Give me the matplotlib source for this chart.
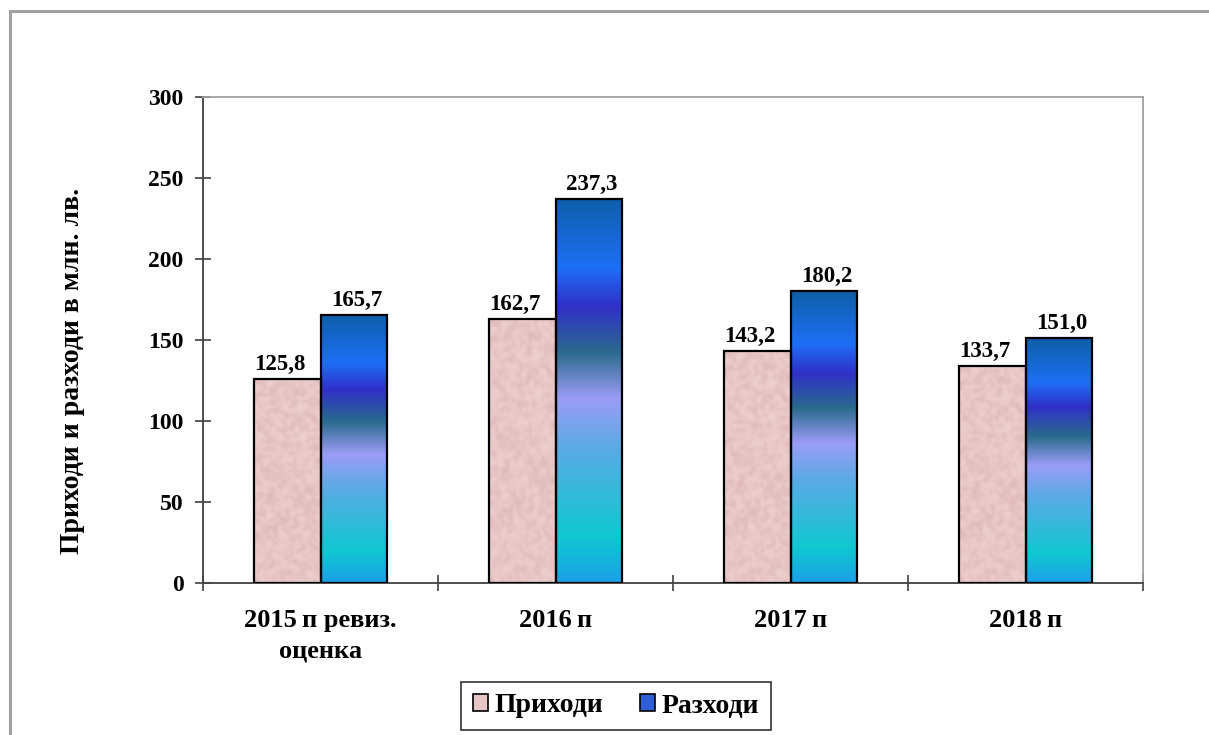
import numpy as np
import matplotlib
matplotlib.use('Agg')
import matplotlib.pyplot as plt
from matplotlib.colors import LinearSegmentedColormap
from matplotlib.patches import Patch, Rectangle

# Данни
kategorii = ['2015\u2009п ревиз.\nоценка', '2016\u2009п', '2017\u2009п', '2018\u2009п']
prihodi = [125.8, 162.7, 143.2, 133.7]
razhodi = [165.7, 237.3, 180.2, 151.0]
etiketi_prihodi = ['125,8', '162,7', '143,2', '133,7']
etiketi_razhodi = ['165,7', '237,3', '180,2', '151,0']

plt.rcParams['font.family'] = ['Liberation Serif', 'DejaVu Serif']
plt.rcParams['font.weight'] = 'bold'

# Градиент за разходите (отдолу нагоре)
син_градиент = LinearSegmentedColormap.from_list('razhodi', [
  (0.0, '#1CA0E8'), (0.12, '#10C8D0'), (0.35, '#5AAAE6'), (0.48, '#9C9CF6'),
  (0.60, '#2A6A8C'), (0.72, '#3030C8'), (0.82, '#1E6EF5'), (1.0, '#0E5FA8')])

# Розова текстура за приходите
rng = np.random.default_rng(3)
шум = rng.random((70, 22))
розова = LinearSegmentedColormap.from_list('prihodi', ['#DDB6B6', '#E8C6C6', '#EFD2D2'])


def ЗапълниСтълбове(ax, стълбове, cmap, текстура=None):
  for s in стълбове:
    x0, y0 = s.get_x(), s.get_y()
    w, h = s.get_width(), s.get_height()
    if текстура is None:
      img = np.linspace(0, 1, 256).reshape(-1, 1)
      interp = 'bilinear'
    else:
      img = текстура
      interp = 'bicubic'
    im = ax.imshow(img, cmap=cmap, extent=(x0, x0 + w, y0, y0 + h),
                   origin='lower', aspect='auto', interpolation=interp, zorder=2)
    im.set_clip_path(s)


fig = plt.figure(figsize=(12.09, 7.35), dpi=100)
fig.patches.append(Rectangle((10 / 1209, -0.1), 1.2, (735 - 11) / 735 + 0.1,
                             transform=fig.transFigure, fill=False,
                             edgecolor='#A0A0A0', linewidth=2.2))

ax = fig.add_axes([203 / 1209, 152 / 735, 940 / 1209, 486 / 735])

x = np.arange(len(kategorii))
ширина = 0.285
b1 = ax.bar(x - ширина / 2, prihodi, ширина, facecolor='none', edgecolor='black', linewidth=1.6, zorder=3)
b2 = ax.bar(x + ширина / 2, razhodi, ширина, facecolor='none', edgecolor='black', linewidth=1.6, zorder=3)
ЗапълниСтълбове(ax, b1, розова, шум)
ЗапълниСтълбове(ax, b2, син_градиент)

for xi, v, t in zip(x, prihodi, etiketi_prihodi):
  ax.text(xi - ширина / 2 - 0.03, v + 2.5, t, ha='center', va='bottom', fontsize=16.5, fontweight='bold')
for xi, v, t in zip(x, razhodi, etiketi_razhodi):
  ax.text(xi + ширина / 2 + 0.01, v + 2.5, t, ha='center', va='bottom', fontsize=16.5, fontweight='bold')

ax.set_xlim(-0.5, len(kategorii) - 0.5)
ax.set_ylim(0, 300)
ax.set_yticks(range(0, 301, 50))
ax.set_xticks(x)
ax.set_xticklabels(kategorii, fontsize=19, fontweight='bold', linespacing=1.4)
ax.set_xticks(np.arange(-0.5, len(kategorii), 1.0), minor=True)
ax.tick_params(axis='x', which='major', length=0, pad=19)
ax.tick_params(axis='x', which='minor', direction='inout', length=12, width=1.2, color='#404040')
ax.tick_params(axis='y', direction='inout', length=12, width=1.2, color='#404040', labelsize=17, pad=8)
for lab in ax.get_yticklabels():
  lab.set_fontweight('bold')

for sp in ['left', 'bottom']:
  ax.spines[sp].set_color('#404040')
  ax.spines[sp].set_linewidth(1.3)
for sp in ['top', 'right']:
  ax.spines[sp].set_color('#A0A0A0')
  ax.spines[sp].set_linewidth(1.3)

fig.text(73 / 1209, 1 - 371 / 735, 'Приходи и разходи в млн. лв.', rotation=90,
         ha='center', va='center', fontsize=20, fontweight='bold')

ръчки = [Patch(facecolor='#E8C6C6', edgecolor='black', linewidth=1.2, label='Приходи'),
         Patch(facecolor='#2F5FD8', edgecolor='black', linewidth=1.2, label='Разходи')]
leg = fig.legend(handles=ръчки, loc='center', bbox_to_anchor=(616 / 1209, 1 - 706 / 735),
                 ncol=2, frameon=True, fancybox=False, prop={'size': 20, 'weight': 'bold'},
                 handlelength=0.55, handleheight=0.55, handletextpad=0.25, columnspacing=1.3,
                 borderpad=0.4, borderaxespad=0.0)
leg.get_frame().set_edgecolor('black')
leg.get_frame().set_linewidth(1.2)

fig.savefig('out.png', dpi=100, facecolor='white')
